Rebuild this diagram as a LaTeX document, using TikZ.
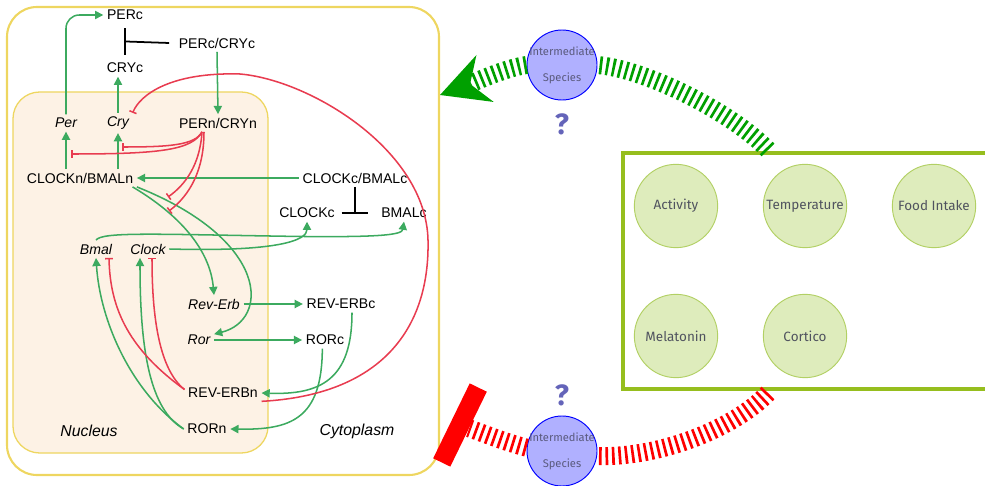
\documentclass[tikz,border=0pt]{standalone}
\usepackage{fontspec}
\setmainfont{Liberation Sans}
\newfontfamily\uifont{Fira Sans}
\usepackage{tikz}
\usetikzlibrary{arrows.meta,calc}
\definecolor{actgreen}{RGB}{60,170,95}
\definecolor{inhred}{RGB}{232,60,80}
\definecolor{frameyellow}{RGB}{238,214,96}
\definecolor{nucfill}{RGB}{253,242,229}
\definecolor{arcgreen}{RGB}{0,160,0}
\definecolor{arcred}{RGB}{255,0,0}
\definecolor{envgreen}{RGB}{150,190,30}
\definecolor{factorfill}{RGB}{222,236,188}
\definecolor{factorline}{RGB}{178,208,100}
\definecolor{uitext}{RGB}{80,83,95}
\definecolor{speciesfill}{RGB}{176,176,255}
\definecolor{speciestext}{RGB}{90,90,125}
\definecolor{qmark}{RGB}{100,100,185}

\begin{document}
\begin{tikzpicture}[
  x=0.03cm, y=-0.03cm,
  lbl/.style={font=\fontsize{12}{14}\selectfont, inner sep=3pt},
  gene/.style={lbl, font=\fontsize{12}{14}\selectfont\itshape},
  region/.style={font=\fontsize{13.5}{16}\selectfont\itshape},
  act/.style={-{Triangle[length=7pt,width=7pt]}, draw=actgreen, line width=1.3pt},
  inh/.style={-{Bar[width=6.5pt]}, draw=inhred, line width=1.3pt},
  cplx/.style={line width=1.5pt},
  factor/.style={circle, draw=factorline, fill=factorfill, line width=0.8pt, minimum size=2.5cm, inner sep=1pt, font=\uifont\fontsize{11.5}{13}\selectfont, text=uitext},
  species/.style={circle, draw=blue, fill=speciesfill, line width=0.8pt, minimum size=2.1cm, inner sep=0pt},
  spectext/.style={align=center, inner sep=0pt, font=\uifont\fontsize{9.5}{22}\selectfont, text=speciestext},
  qlabel/.style={font=\uifont\bfseries\fontsize{25}{28}\selectfont, text=qmark},
  signal/.style={line width=0.54cm, dash pattern=on 0.08cm off 0.115cm}
]
  \useasboundingbox (0,0) rectangle (985,486);
  \draw[frameyellow, line width=1.8pt, rounded corners=0.9cm] (7,7) rectangle (439,475);
  \draw[frameyellow, fill=nucfill, line width=1.1pt, rounded corners=0.8cm] (13,92) rectangle (268,453);

  \node[lbl] (perc) at (125,15) {PERc};
  \node[lbl] (percryc) at (217,43) {PERc/CRYc};
  \node[lbl] (cryc) at (125,68) {CRYc};
  \node[gene] (per) at (66,123) {Per};
  \node[gene] (cry) at (118,123) {Cry};
  \node[lbl] (pernc) at (218,123) {PERn/CRYn};
  \node[lbl] (clkbn) at (80,178) {CLOCKn/BMALn};
  \node[lbl] (clkbc) at (355,178) {CLOCKc/BMALc};
  \node[lbl] (clockc) at (307,213) {CLOCKc};
  \node[lbl] (bmalc) at (404,213) {BMALc};
  \node[gene] (bmal) at (96,249) {Bmal};
  \node[gene] (clock) at (148,249) {Clock};
  \node[gene] (reverb) at (214,304) {Rev-Erb};
  \node[lbl] (reverbc) at (341,304) {REV-ERBc};
  \node[gene] (ror) at (199,340) {Ror};
  \node[lbl] (rorc) at (325,340) {RORc};
  \node[lbl] (reverbn) at (223,393) {REV-ERBn};
  \node[lbl] (rorn) at (207,429) {RORn};
  \node[region] (nuc) at (89,431) {Nucleus};
  \node[region] (cyto) at (357,431) {Cytoplasm};

  \coordinate (pcjoin) at ($(perc.south)!0.5!(cryc.north)$);
  \coordinate (cbjoin) at (clkbc.south |- clockc);
  \coordinate (perhit) at (71,154);
  \coordinate (cryhit) at (122,147);
  \coordinate (rehit) at (168,197);
  \coordinate (rohit) at (169,211);

  \draw[cplx, shorten <=4pt, shorten >=4pt] (perc.south) -- (cryc.north);
  \draw[cplx] ([xshift=-0.18cm]percryc.west) -- (pcjoin);
  \draw[cplx] (clkbc.south) -- (cbjoin);
  \draw[cplx] ([xshift=-0.4cm]cbjoin) -- ([xshift=0.4cm]cbjoin);

  \draw[act, rounded corners=0.4cm] (per.north) |- (perc.west);
  \draw[act] (cry.north) -- (cry.north |- cryc.south);
  \draw[act] (percryc.south) -- (pernc.north);
  \draw[act] (clkbn.north -| per.south) -- (per.south);
  \draw[act] (clkbn.north -| cry.south) -- (cry.south);
  \draw[act] (clkbc.west) -- (clkbn.east);
  \draw[act] ([xshift=-0.13cm]clkbn.south east) .. controls (180,215) and (210,250) .. (reverb.north);
  \draw[act] (clkbn.south east) .. controls (270,240) and (270,320) .. ([yshift=5pt]ror.east);
  \draw[act] (bmal.north) .. controls (102,232) and (150,234) .. (270,236) .. controls (380,238) and (402,235) .. (bmalc.south);
  \draw[act] (clock.east) .. controls (280,252) and (307,240) .. (clockc.south);
  \draw[act] (reverb.east) -- (reverbc.west);
  \draw[act] (ror.east) -- (rorc.west);
  \draw[act] ([xshift=0.33cm]reverbc.south) .. controls (352,380) and (320,395) .. (reverbn.east);
  \draw[act] ([xshift=-0.08cm]rorc.south) .. controls (322,420) and (290,430) .. (rorn.east);
  \draw[act] (rorn.west) .. controls (130,390) and (100,320) .. (bmal.south);
  \draw[act] (rorn.west) .. controls (150,410) and (140,350) .. ([xshift=-0.24cm]clock.south);

  \draw[inh] ([xshift=-0.48cm]pernc.south) .. controls (192,150) and (160,154) .. (perhit);
  \draw[inh] ([xshift=-0.48cm]pernc.south) .. controls (195,145) and (170,147) .. (cryhit);
  \draw[inh] ([xshift=-0.48cm]pernc.south) .. controls (200,165) and (185,185) .. (rehit);
  \draw[inh] ([xshift=-0.42cm]pernc.south) .. controls (204,170) and (190,195) .. (rohit);
  \draw[inh] ([yshift=3pt]reverbn.west) .. controls (130,350) and (110,310) .. ([xshift=0.39cm]bmal.south);
  \draw[inh] ([yshift=3pt]reverbn.west) .. controls (160,370) and (152,320) .. ([xshift=0.12cm]clock.south);
  \draw[inh] ([yshift=-0.25cm]reverbn.east) .. controls (380,395) and (430,330) .. (428,240) .. controls (426,150) and (310,80) .. (240,74) .. controls (170,72) and (140,95) .. (cry.north east);

  \draw[envgreen, line width=0.12cm] (623,153) rectangle (1000,389);
  \node[factor] (activity) at (676,206) {Activity};
  \node[factor] (temperature) at (805,206) {Temperature};
  \node[factor] (food) at (934,206) {Food Intake};
  \node[factor] (melatonin) at (676,336) {Melatonin};
  \node[factor] (cortico) at (805,336) {Cortico};

  \node[species] (isup) at (562,65) {};
  \node[spectext] (isuptxt) at (isup.center) {Intermediate\\Species};
  \node[species] (isdown) at (562,451) {};
  \node[spectext] (isdowntxt) at (isdown.center) {Intermediate\\Species};
  \node[qlabel] (qup) at (562,124) {?};
  \node[qlabel] (qdown) at (562,395) {?};

  \coordinate (gsrc) at (768,150);
  \coordinate (gtip) at (440,95);
  \coordinate (rsrc) at (768,393);
  \node[fill=arcred, minimum width=2.5cm, minimum height=0.57cm, inner sep=0pt, rotate=64] (blockbar) at (460,425) {};

  \draw[arcgreen, signal] (gsrc) .. controls (735,115) and (650,70) .. (isup.east);
  \draw[arcgreen, signal, -{Stealth[length=1.44cm, width=1.5cm, inset=0.48cm, line width=0pt]}] (isup.west) .. controls (505,68) and (470,84) .. (gtip);
  \draw[arcred, signal] (rsrc) .. controls (735,428) and (660,458) .. ([yshift=-0.15cm]isdown.east);
  \draw[arcred, signal] ([yshift=0.1cm]isdown.west) .. controls (505,442) and (485,434) .. (blockbar);
\end{tikzpicture}
\end{document}
